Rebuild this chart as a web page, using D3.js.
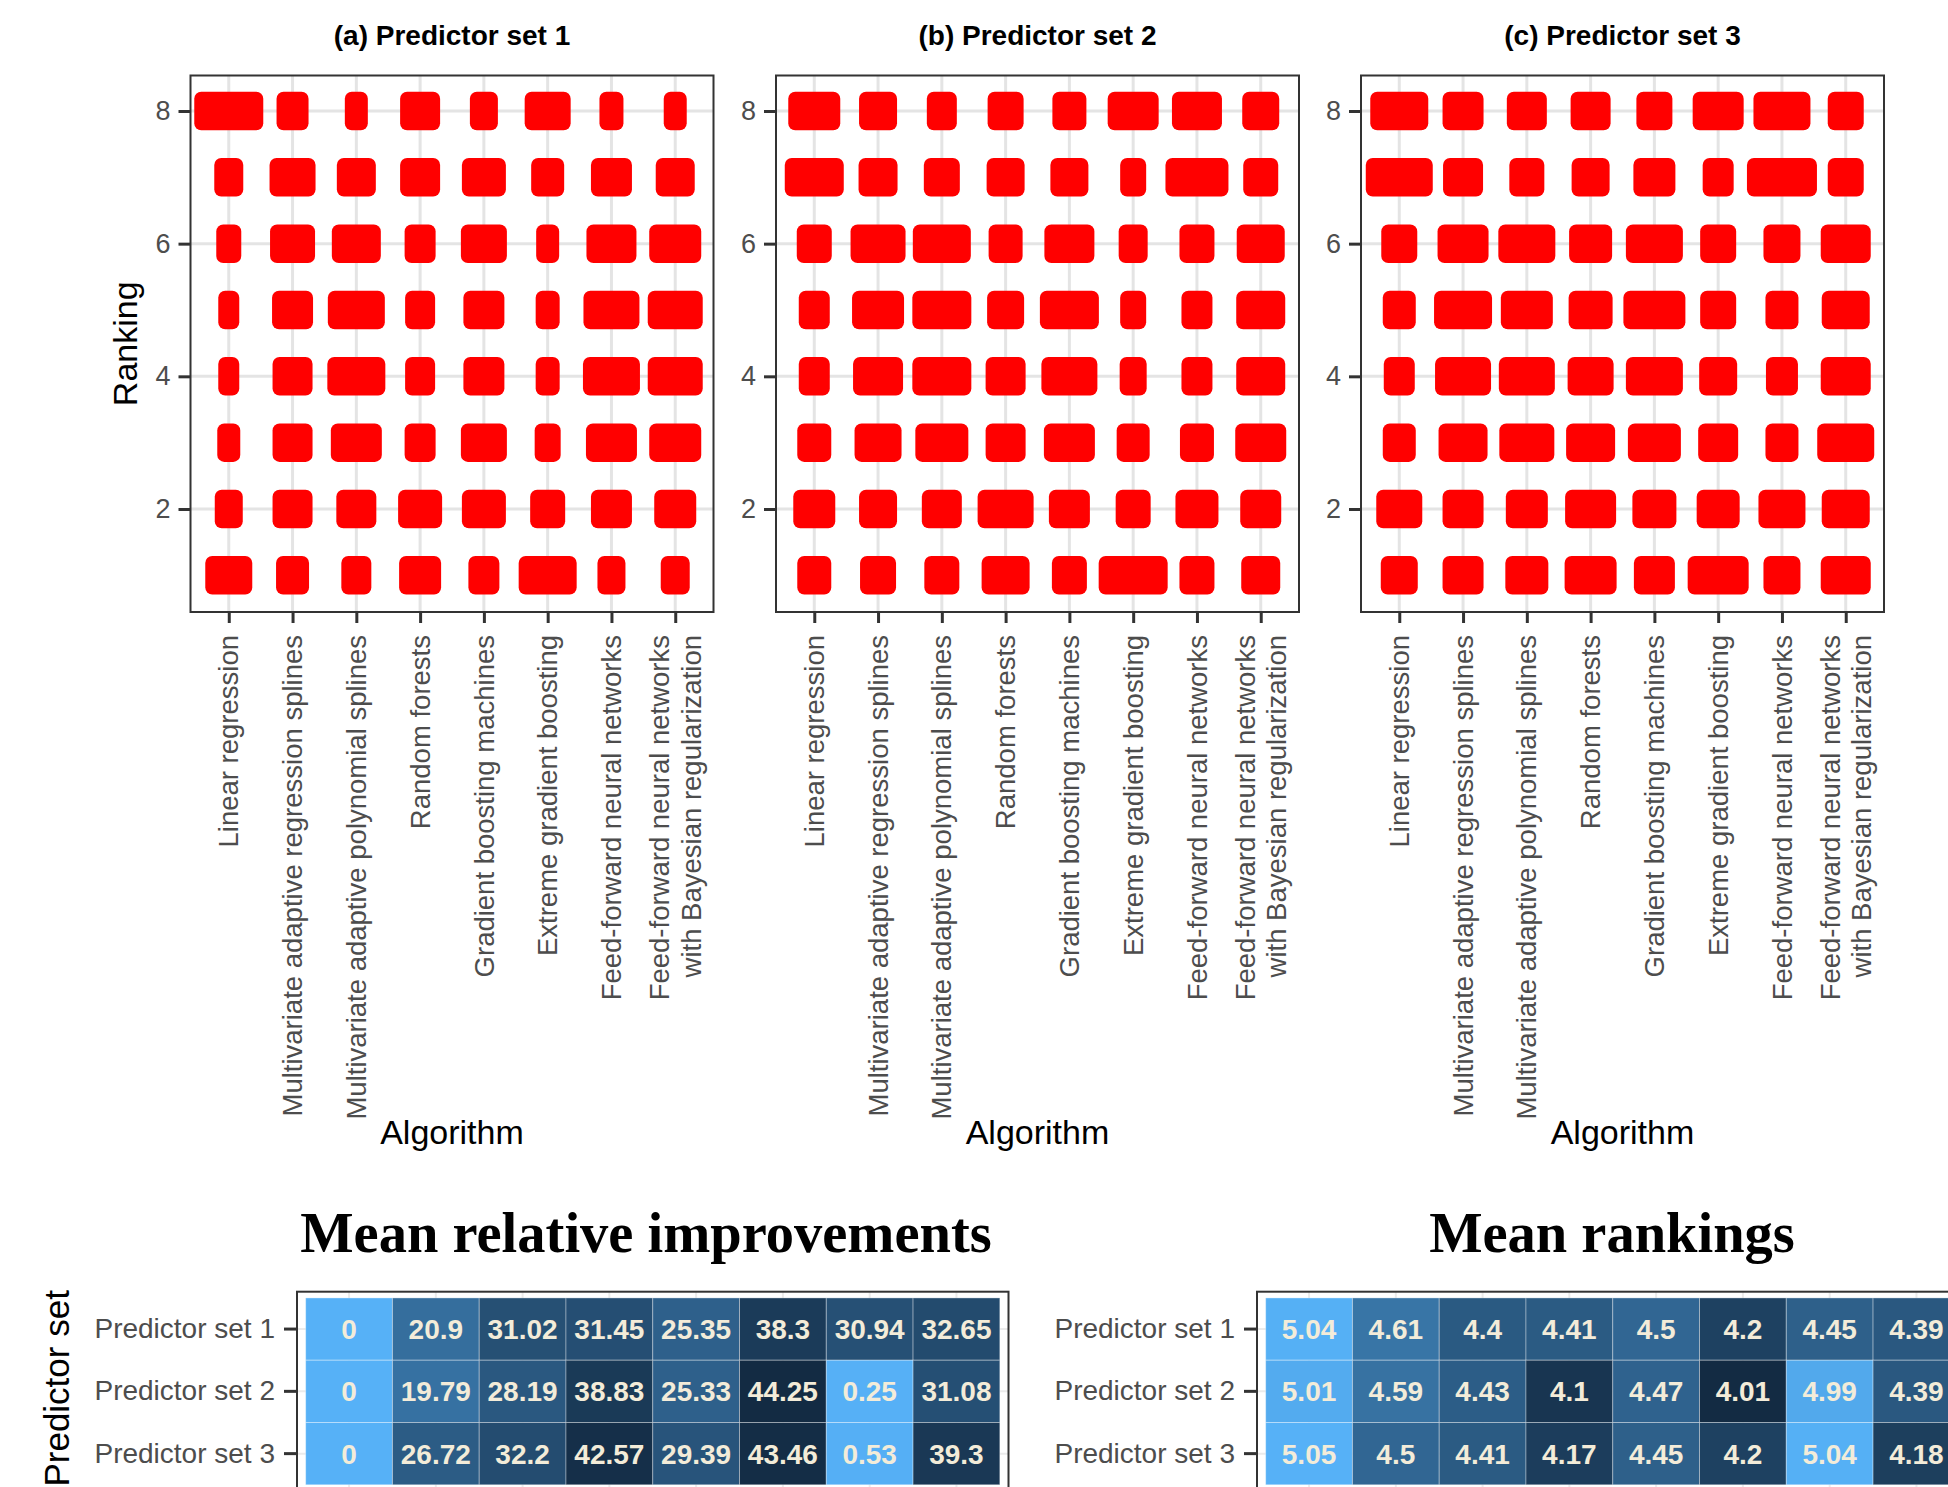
<!DOCTYPE html>
<html>
<head>
<meta charset="utf-8">
<script src="https://cdn.jsdelivr.net/npm/d3@7"></script>
<style>
  body { margin: 0; background: #fff; }
  svg { display: block; }
</style>
</head>
<body>
<svg id="fig" width="1948" height="1487"></svg>
<script>
// ---------- data ----------
const algorithms = [
  "Linear regression",
  "Multivariate adaptive regression splines",
  "Multivariate adaptive polynomial splines",
  "Random forests",
  "Gradient boosting machines",
  "Extreme gradient boosting",
  "Feed-forward neural networks",
  "Feed-forward neural networks\nwith Bayesian regularization"
];
const ranks = [8, 7, 6, 5, 4, 3, 2, 1];
const rankTicks = [2, 4, 6, 8];
const panelTitles = ["(a) Predictor set 1", "(b) Predictor set 2", "(c) Predictor set 3"];
const predictorSets = ["Predictor set 1", "Predictor set 2", "Predictor set 3"];

// number of cases reaching each rank; rows follow `ranks`, columns follow `algorithms`
const countsSet1 = [
  [55, 18,  9, 26, 14, 32, 10,  9],
  [15, 32, 25, 26, 30, 19, 27, 25],
  [11, 31, 35, 17, 32,  9, 36, 38],
  [ 7, 27, 43, 16, 27, 10, 42, 41],
  [ 7, 26, 44, 16, 27, 10, 43, 41],
  [ 9, 26, 37, 17, 32, 12, 37, 38],
  [14, 26, 26, 30, 30, 21, 27, 28],
  [33, 19, 16, 28, 17, 44, 14, 15]
];
const countsSet2 = [
  [38, 24, 16, 22, 20, 37, 36, 23],
  [45, 25, 22, 24, 24, 12, 49, 21],
  [21, 41, 44, 20, 36, 15, 21, 34],
  [17, 38, 45, 23, 45, 12, 17, 35],
  [17, 36, 45, 26, 42, 13, 17, 35],
  [20, 33, 39, 26, 37, 19, 20, 37],
  [28, 24, 26, 42, 27, 21, 29, 27],
  [20, 22, 21, 34, 21, 55, 21, 25]
];
const countsSet3 = [
  [44, 27, 26, 26, 22, 37, 43, 22],
  [53, 26, 21, 24, 28, 17, 56, 22],
  [22, 37, 43, 29, 43, 22, 23, 36],
  [19, 44, 38, 30, 48, 22, 19, 34],
  [17, 42, 42, 32, 43, 24, 18, 36],
  [19, 35, 41, 35, 39, 26, 19, 43],
  [32, 27, 28, 37, 30, 29, 33, 34],
  [23, 27, 29, 38, 27, 47, 23, 36]
];
const countsBySet = [countsSet1, countsSet2, countsSet3];

// mean relative improvements (%), rows follow `predictorSets`
const meanImprovement = [
  [0, 20.9, 31.02, 31.45, 25.35, 38.3, 30.94, 32.65],
  [0, 19.79, 28.19, 38.83, 25.33, 44.25, 0.25, 31.08],
  [0, 26.72, 32.2, 42.57, 29.39, 43.46, 0.53, 39.3]
];
// mean rankings, rows follow `predictorSets`
const meanRanking = [
  [5.04, 4.61, 4.4, 4.41, 4.5, 4.2, 4.45, 4.39],
  [5.01, 4.59, 4.43, 4.1, 4.47, 4.01, 4.99, 4.39],
  [5.05, 4.5, 4.41, 4.17, 4.45, 4.2, 5.04, 4.18]
];

// ---------- drawing ----------
const svg = d3.select("#fig");
svg.append("rect").attr("width", 1948).attr("height", 1487).attr("fill", "#fff");

const SANS = "'Liberation Sans', Arial, Helvetica, sans-serif";
const SERIF = "'Liberation Serif', 'Times New Roman', serif";
const GRID = "#e4e4e4";
const AXIS = "#333333";
const TICKTXT = "#4d4d4d";

const panelLefts = [190.5, 776, 1361];
const panelW = 523;
const panelTop = 75.5, panelBottom = 612;
const jitterHeight = 0.185;   // vertical jitter of the points (rank units)
const pointDiameter = 14;

const y = d3.scaleLinear().domain([0.447, 8.535]).range([panelBottom, panelTop]);
const spread = d3.scaleLinear().domain([0, 60]).range([pointDiameter, pointDiameter + 60]);

countsBySet.forEach((counts, p) => {
  const left = panelLefts[p];
  const x = d3.scalePoint().domain(algorithms).range([left, left + panelW]).padding(0.6);
  const g = svg.append("g");

  // panel title
  g.append("text")
    .attr("x", left + panelW / 2).attr("y", 45)
    .attr("text-anchor", "middle")
    .attr("font-family", SANS).attr("font-weight", "bold").attr("font-size", 28)
    .attr("fill", "#000")
    .text(panelTitles[p]);

  // grid
  g.append("g").selectAll("line").data(algorithms).join("line")
    .attr("x1", d => x(d)).attr("x2", d => x(d))
    .attr("y1", panelTop).attr("y2", panelBottom)
    .attr("stroke", GRID).attr("stroke-width", 3);
  g.append("g").selectAll("line").data(rankTicks).join("line")
    .attr("x1", left).attr("x2", left + panelW)
    .attr("y1", d => y(d)).attr("y2", d => y(d))
    .attr("stroke", GRID).attr("stroke-width", 3);

  // rank blobs
  const cells = [];
  counts.forEach((row, ri) => row.forEach((n, ai) => cells.push({ rank: ranks[ri], alg: algorithms[ai], n })));
  g.append("g").selectAll("rect").data(cells).join("rect")
    .attr("x", d => x(d.alg) - spread(d.n) / 2)
    .attr("width", d => spread(d.n))
    .attr("y", d => y(d.rank + jitterHeight) - pointDiameter / 2)
    .attr("height", d => y(d.rank - jitterHeight) - y(d.rank + jitterHeight) + pointDiameter)
    .attr("rx", 7).attr("ry", 7)
    .attr("fill", "#ff0000");

  // border
  g.append("rect")
    .attr("x", left).attr("y", panelTop)
    .attr("width", panelW).attr("height", panelBottom - panelTop)
    .attr("fill", "none").attr("stroke", AXIS).attr("stroke-width", 2);

  // y axis
  const yAxis = d3.axisLeft(y).tickValues(rankTicks).tickSize(12).tickPadding(8);
  const ya = g.append("g").attr("transform", `translate(${left},0)`).call(yAxis);
  ya.select(".domain").remove();
  ya.selectAll(".tick line").attr("stroke", AXIS).attr("stroke-width", 3);
  ya.selectAll(".tick text").attr("font-family", SANS).attr("font-size", 27).attr("fill", TICKTXT);

  // x axis
  const xAxis = d3.axisBottom(x).tickSize(11).tickFormat("");
  const xa = g.append("g").attr("transform", `translate(0,${panelBottom})`).call(xAxis);
  xa.select(".domain").remove();
  xa.selectAll(".tick line").attr("stroke", AXIS).attr("stroke-width", 3);

  // rotated category labels
  const lab = g.append("g").selectAll("g").data(algorithms).join("g")
    .attr("transform", d => `translate(${x(d)},635) rotate(-90)`);
  lab.each(function (d) {
    const lines = d.split("\n");
    const lh = 31.5;
    const t = d3.select(this).append("text")
      .attr("text-anchor", "end")
      .attr("font-family", SANS).attr("font-size", 27.5).attr("fill", TICKTXT);
    lines.forEach((ln, i) => {
      t.append("tspan")
        .attr("x", 0)
        .attr("y", (i - (lines.length - 1) / 2) * lh)
        .attr("dy", "0.35em")
        .text(ln);
    });
  });

  // x title
  g.append("text")
    .attr("x", left + panelW / 2).attr("y", 1144)
    .attr("text-anchor", "middle")
    .attr("font-family", SANS).attr("font-size", 34).attr("fill", "#000")
    .text("Algorithm");
});

// y title of the rank panels
svg.append("text")
  .attr("transform", `translate(137,${(panelTop + panelBottom) / 2}) rotate(-90)`)
  .attr("text-anchor", "middle")
  .attr("font-family", SANS).attr("font-size", 34).attr("fill", "#000")
  .text("Ranking");

// ---------- heatmaps ----------
function heatmap(values, left, title, titleX, colorScale, showYTitle) {
  const right = left + 711.5;
  const top = 1291.7, bottom = 1491;
  const g = svg.append("g");
  const xb = d3.scaleBand().domain(algorithms).range([left, right]).paddingOuter(0.1).paddingInner(0);
  const yb = d3.scaleBand().domain(predictorSets).range([top, bottom]).paddingOuter(0.1).paddingInner(0);

  g.append("text")
    .attr("x", titleX).attr("y", 1252)
    .attr("text-anchor", "middle")
    .attr("font-family", SERIF).attr("font-weight", "bold").attr("font-size", 56.5)
    .attr("fill", "#000")
    .text(title);

  // faint grid behind tiles
  g.append("g").selectAll("line").data(algorithms).join("line")
    .attr("x1", d => xb(d) + xb.bandwidth() / 2).attr("x2", d => xb(d) + xb.bandwidth() / 2)
    .attr("y1", top).attr("y2", bottom)
    .attr("stroke", "#ebebeb").attr("stroke-width", 2);
  g.append("g").selectAll("line").data(predictorSets).join("line")
    .attr("x1", left).attr("x2", right)
    .attr("y1", d => yb(d) + yb.bandwidth() / 2).attr("y2", d => yb(d) + yb.bandwidth() / 2)
    .attr("stroke", "#ebebeb").attr("stroke-width", 2);

  const cells = [];
  values.forEach((row, ri) => row.forEach((v, ai) => cells.push({ set: predictorSets[ri], alg: algorithms[ai], v })));
  g.append("g").selectAll("rect").data(cells).join("rect")
    .attr("x", d => xb(d.alg)).attr("y", d => yb(d.set))
    .attr("width", xb.bandwidth()).attr("height", yb.bandwidth())
    .attr("fill", d => colorScale(d.v))
    .attr("stroke", "rgba(255,255,255,0.35)").attr("stroke-width", 1);
  g.append("g").selectAll("text").data(cells).join("text")
    .attr("x", d => xb(d.alg) + xb.bandwidth() / 2)
    .attr("y", d => yb(d.set) + yb.bandwidth() / 2)
    .attr("dy", "0.36em")
    .attr("text-anchor", "middle")
    .attr("font-family", SANS).attr("font-weight", "bold").attr("font-size", 28)
    .attr("fill", "#f3ecd9")
    .text(d => d.v);

  g.append("rect")
    .attr("x", left).attr("y", top).attr("width", right - left).attr("height", bottom - top)
    .attr("fill", "none").attr("stroke", AXIS).attr("stroke-width", 2);

  const ya = g.append("g").attr("transform", `translate(${left},0)`)
    .call(d3.axisLeft(yb).tickSize(13).tickPadding(9));
  ya.select(".domain").remove();
  ya.selectAll(".tick line").attr("stroke", AXIS).attr("stroke-width", 3);
  ya.selectAll(".tick text").attr("font-family", SANS).attr("font-size", 28).attr("fill", TICKTXT);

  if (showYTitle) {
    g.append("text")
      .attr("transform", `translate(69,${(top + bottom) / 2 - 3}) rotate(-90)`)
      .attr("text-anchor", "middle")
      .attr("font-family", SANS).attr("font-size", 35).attr("fill", "#000")
      .text("Predictor set");
  }
}

const allImp = meanImprovement.flat();
const impColor = d3.scaleLinear()
  .domain([d3.min(allImp), d3.max(allImp)])
  .range(["#56B1F7", "#132B43"])
  .interpolate(d3.interpolateLab);
const allRank = meanRanking.flat();
const rankColor = d3.scaleLinear()
  .domain([d3.min(allRank), d3.max(allRank)])
  .range(["#132B43", "#56B1F7"])
  .interpolate(d3.interpolateLab);

heatmap(meanImprovement, 297, "Mean relative improvements", 646, impColor, true);
heatmap(meanRanking, 1257, "Mean rankings", 1612, rankColor, false);
</script>
</body>
</html>
